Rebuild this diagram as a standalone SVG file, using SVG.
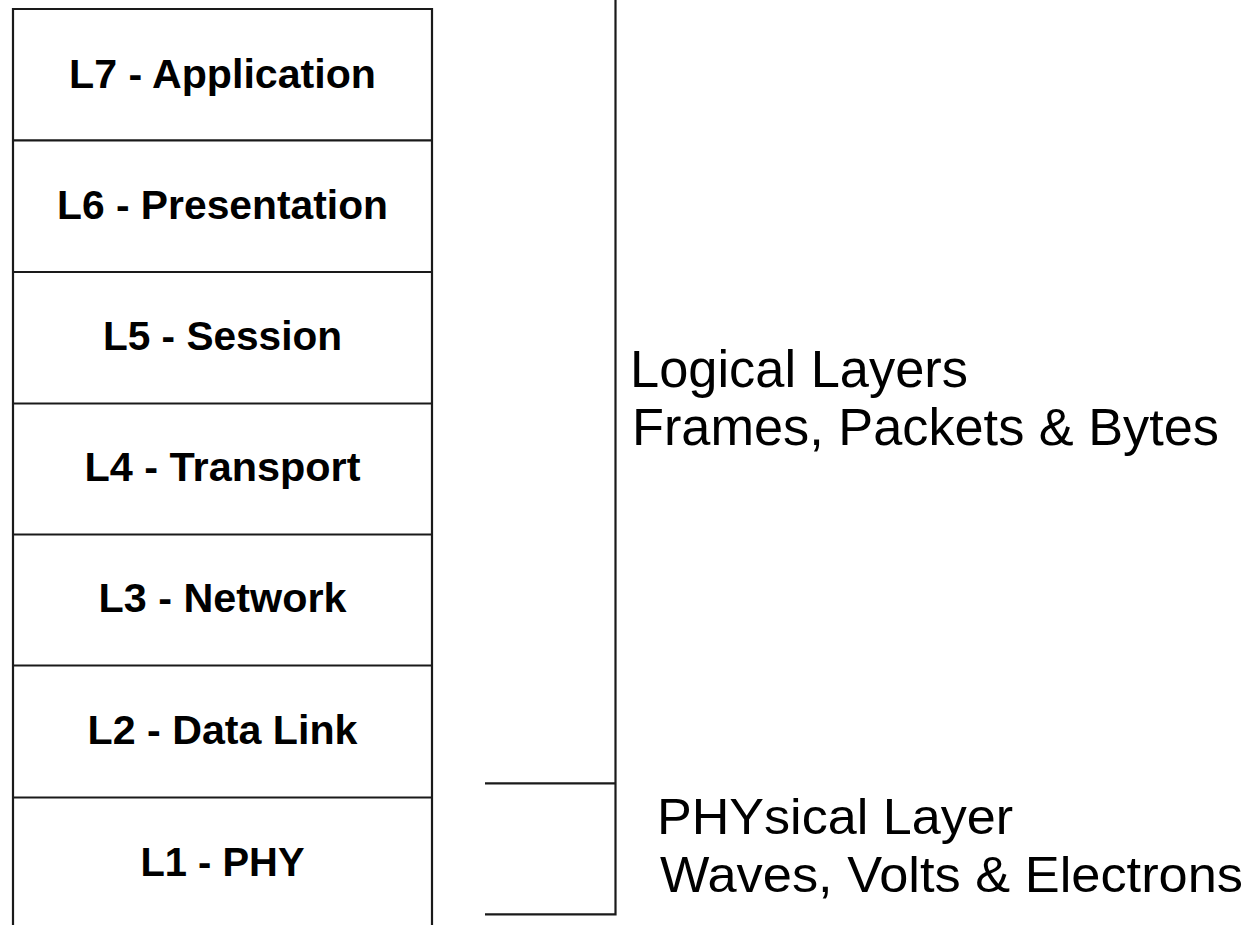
<svg xmlns="http://www.w3.org/2000/svg" width="1249" height="925" viewBox="0 0 1249 925">
<style>
.ln{stroke:#1a1a1a;stroke-width:2.2;fill:none}
.b{font-family:"Liberation Sans",Arial,sans-serif;font-weight:bold;font-size:40px;fill:#000;text-anchor:middle}
.r{font-family:"Liberation Sans",Arial,sans-serif;fill:#000}
</style>
<rect width="1249" height="925" fill="#fff"/>
<g id="stack">
<path class="ln" d="M13,930 V9 H432 V930"/>
</g>
<g id="L7"><text class="b" x="222.5" y="88" textLength="307" lengthAdjust="spacingAndGlyphs">L7 - Application</text></g>
<g id="L6"><path class="ln" d="M13,140.4 H432"/><text class="b" x="222.5" y="219" textLength="331" lengthAdjust="spacingAndGlyphs">L6 - Presentation</text></g>
<g id="L5"><path class="ln" d="M13,272 H432"/><text class="b" x="222.5" y="350" textLength="239" lengthAdjust="spacingAndGlyphs">L5 - Session</text></g>
<g id="L4"><path class="ln" d="M13,403.5 H432"/><text class="b" x="222.5" y="481" textLength="276" lengthAdjust="spacingAndGlyphs">L4 - Transport</text></g>
<g id="L3"><path class="ln" d="M13,534.5 H432"/><text class="b" x="222.5" y="612" textLength="248" lengthAdjust="spacingAndGlyphs">L3 - Network</text></g>
<g id="L2"><path class="ln" d="M13,665.5 H432"/><text class="b" x="222.5" y="744" textLength="270" lengthAdjust="spacingAndGlyphs">L2 - Data Link</text></g>
<g id="L1"><path class="ln" d="M13,797.5 H432"/><text class="b" x="222.5" y="876" textLength="164" lengthAdjust="spacingAndGlyphs">L1 - PHY</text></g>
<g id="connectors">
<path class="ln" d="M615.5,0 V914.3 H485"/>
<path class="ln" d="M485,783.3 H615.5"/>
</g>
<g id="logical">
<text class="r" font-size="51" x="630" y="387" textLength="338" lengthAdjust="spacingAndGlyphs">Logical Layers</text>
<text class="r" font-size="51" x="632" y="445" textLength="587" lengthAdjust="spacingAndGlyphs">Frames, Packets &amp; Bytes</text>
</g>
<g id="physical">
<text class="r" font-size="50" x="657" y="834" textLength="356" lengthAdjust="spacingAndGlyphs">PHYsical Layer</text>
<text class="r" font-size="50" x="660" y="892" textLength="583" lengthAdjust="spacingAndGlyphs">Waves, Volts &amp; Electrons</text>
</g>
</svg>
